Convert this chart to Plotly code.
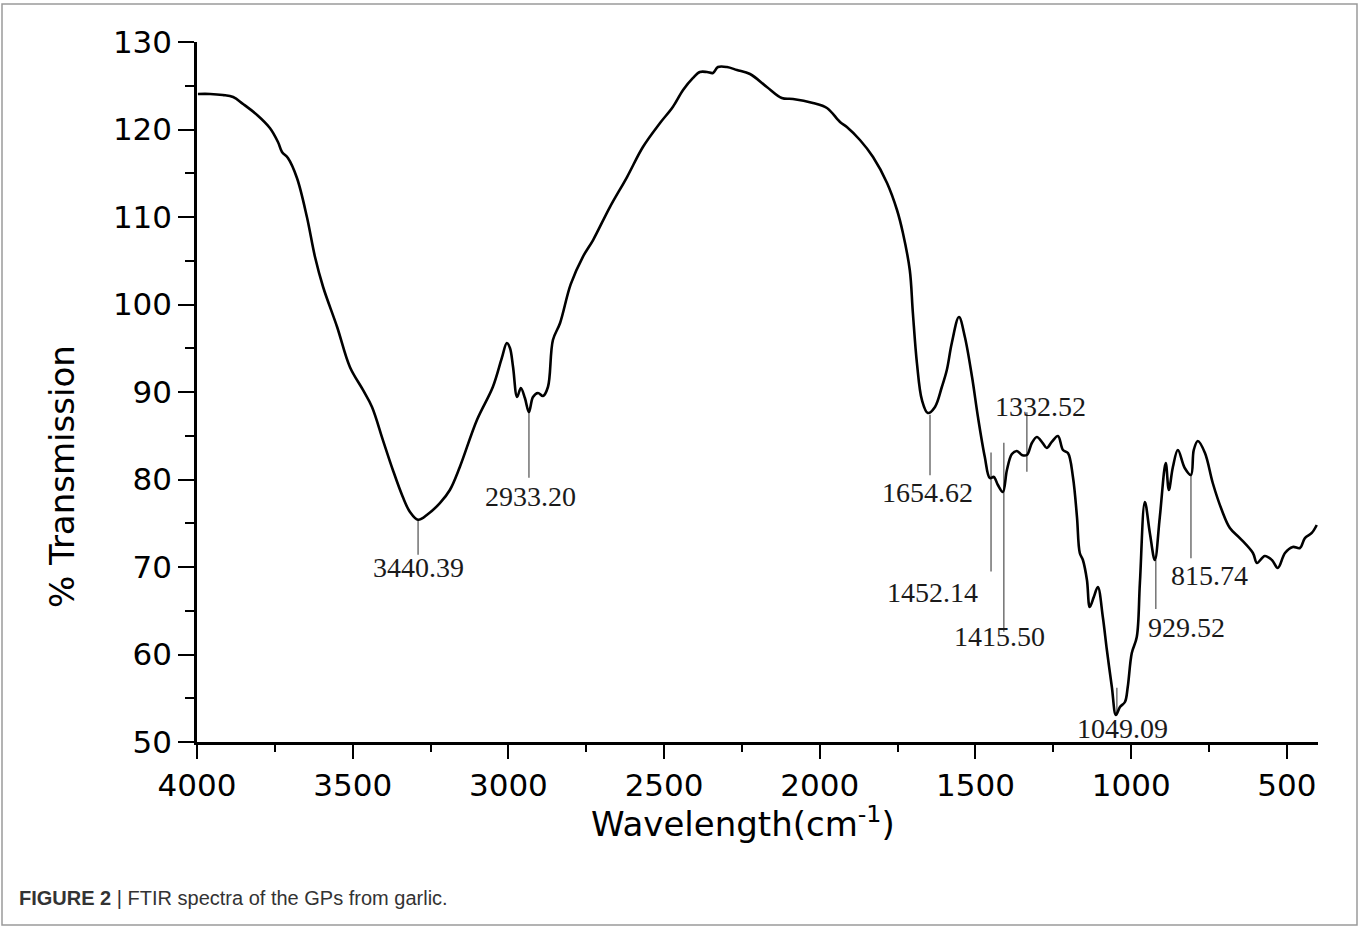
import plotly.graph_objects as go

# ---- data ----
wavenumber = [3997, 3958, 3917, 3884, 3852, 3807, 3766, 3740, 3727, 3708, 3679, 3647, 3621, 3595,
              3550, 3509, 3467, 3438, 3403, 3371, 3339, 3316, 3290, 3258, 3220, 3188, 3156, 3101,
              3050, 3021, 3005, 2995, 2985, 2972, 2960, 2947, 2934, 2921, 2905, 2889, 2873, 2857,
              2834, 2800, 2760, 2728, 2674, 2619, 2568, 2513, 2472, 2439, 2407, 2385, 2362, 2343,
              2327, 2298, 2266, 2224, 2170, 2122, 2086, 2022, 1977, 1935, 1913, 1871, 1829, 1784,
              1752, 1733, 1711, 1701, 1688, 1672, 1653, 1630, 1608, 1592, 1576, 1553, 1534, 1511,
              1492, 1470, 1454, 1441, 1428, 1412, 1399, 1383, 1367, 1351, 1335, 1319, 1303, 1284,
              1271, 1255, 1235, 1219, 1203, 1187, 1174, 1165, 1155, 1142, 1133, 1120, 1107, 1091,
              1078, 1062, 1049, 1036, 1020, 1011, 998, 982, 972, 956, 940, 924, 908, 889, 879, 866,
              850, 828, 808, 799, 786, 763, 738, 709, 683, 651, 609, 596, 571, 548, 529, 506, 481,
              458, 442, 420, 404]
transmission = [124.06, 124.06, 123.94, 123.71, 122.91, 121.66, 120.17, 118.57, 117.43, 116.74,
                114.46, 110.0, 105.43, 102.0, 97.43, 92.86, 90.23, 88.29, 84.51, 81.09, 78.0,
                76.29, 75.4, 76.06, 77.3, 78.8, 81.43, 86.8, 90.57, 93.9, 95.6, 95.03, 92.86,
                89.43, 90.46, 89.31, 87.71, 89.43, 89.89, 89.54, 90.57, 95.94, 97.89, 102.3,
                105.5, 107.37, 111.14, 114.57, 118.0, 120.74, 122.57, 124.51, 125.89, 126.57,
                126.57, 126.46, 127.14, 127.14, 126.8, 126.34, 124.86, 123.6, 123.49, 123.03,
                122.46, 120.86, 120.29, 118.8, 116.86, 113.89, 110.8, 108.17, 103.94, 99.03,
                93.31, 89.09, 87.6, 88.29, 90.57, 92.51, 95.6, 98.57, 96.29, 91.71, 87.14,
                82.57, 80.17, 80.29, 79.37, 78.57, 81.09, 82.91, 83.26, 82.8, 82.8, 84.17,
                84.86, 84.17, 83.6, 84.29, 84.97, 83.37, 83.03, 80.29, 75.71, 71.6, 70.8,
                68.51, 65.43, 66.57, 67.71, 64.29, 60.51, 56.29, 53.09, 54.0, 54.57, 56.29,
                60.17, 62.0, 68.17, 77.43, 73.89, 70.8, 75.71, 81.89, 78.8, 81.43, 83.37,
                81.31, 80.51, 83.37, 84.4, 83.03, 79.6, 76.51, 74.46, 73.31, 71.6, 70.46,
                71.26, 70.8, 69.89, 71.6, 72.29, 72.17, 73.31, 73.89, 74.8]

peak_labels = ["3440.39", "2933.20", "1654.62", "1452.14", "1415.50",
               "1332.52", "1049.09", "929.52", "815.74"]
# where each marker line sits (wavenumber on the axis) and its vertical extent
peak_line_x = [3290, 2934, 1646, 1450, 1409, 1335, 1046, 921, 808]
peak_line_top = [75.4, 87.7, 87.4, 83.1, 84.2, 87.7, 56.2, 70.8, 80.5]
peak_line_bottom = [71.4, 80.2, 80.5, 69.5, 62.6, 80.9, 53.3, 65.2, 71.0]
# label centres
peak_text_x = [3290, 2928, 1653, 1637, 1422, 1290, 1027, 821, 747]
peak_text_y = [70.0, 78.1, 78.5, 67.1, 62.1, 88.4, 51.5, 63.1, 69.0]

x_ticks = [4000, 3500, 3000, 2500, 2000, 1500, 1000, 500]
y_ticks = [50, 60, 70, 80, 90, 100, 110, 120, 130]

# ---- layout constants (pixels) ----
W, H = 1360, 928
ML, MR, MT, MB = 197, 42, 42, 186
PW, PH = W - ML - MR, H - MT - MB


def px_x(p):
    return (p - ML) / PW


def px_y(p):
    return (H - MB - p) / PH


fig = go.Figure()
fig.add_trace(go.Scatter(
    x=wavenumber, y=transmission, mode="lines",
    line=dict(color="black", width=2.6, shape="spline", smoothing=1.0),
    hoverinfo="skip", showlegend=False))

for lx, y0, y1 in zip(peak_line_x, peak_line_top, peak_line_bottom):
    fig.add_shape(type="line", xref="x", yref="y", x0=lx, x1=lx, y0=y0, y1=y1,
                  line=dict(color="#7a7a7a", width=1.6), layer="below")

for lab, tx, ty in zip(peak_labels, peak_text_x, peak_text_y):
    fig.add_annotation(x=tx, y=ty, xref="x", yref="y", text=lab, showarrow=False,
                       font=dict(family="Liberation Serif", size=28, color="#1a1a1a"),
                       xanchor="center", yanchor="middle")

tick_font = dict(family="DejaVu Sans", size=31, color="black")

fig.update_xaxes(range=[4000, 400], tickvals=x_ticks, ticktext=[str(v) for v in x_ticks],
                 showline=True, linecolor="black", linewidth=2.5, mirror=False,
                 ticks="outside", ticklen=14, tickwidth=2.2, tickcolor="black",
                 showgrid=False, zeroline=False, tickfont=tick_font,
                 minor=dict(ticks="outside", ticklen=7, tickwidth=2.2, tickcolor="black",
                            dtick=250, tick0=0, showgrid=False))
fig.update_yaxes(range=[50, 130], tickvals=y_ticks, ticktext=[str(v) for v in y_ticks],
                 showline=True, linecolor="black", linewidth=2.5, mirror=False,
                 ticks="outside", ticklen=16, tickwidth=2.2, tickcolor="black",
                 showgrid=False, zeroline=False, tickfont=tick_font,
                 minor=dict(ticks="outside", ticklen=9, tickwidth=2.2, tickcolor="black",
                            dtick=5, tick0=0, showgrid=False))

# axis titles
fig.add_annotation(xref="paper", yref="paper", x=px_x(62), y=px_y(477),
                   text="% Transmission", textangle=-90, showarrow=False,
                   font=dict(family="DejaVu Sans", size=34, color="black"),
                   xanchor="center", yanchor="middle")
fig.add_annotation(xref="paper", yref="paper", x=px_x(743), y=px_y(822),
                   text="Wavelength(cm<sup>-1</sup>)", showarrow=False,
                   font=dict(family="DejaVu Sans", size=34, color="black"),
                   xanchor="center", yanchor="middle")

# caption
fig.add_annotation(xref="paper", yref="paper", x=px_x(17), y=px_y(898),
                   text="<b>FIGURE 2</b> | FTIR spectra of the GPs from garlic.",
                   showarrow=False,
                   font=dict(family="Liberation Sans", size=20, color="#333333"),
                   xanchor="left", yanchor="middle")

# outer frame
fig.add_shape(type="rect", xref="paper", yref="paper",
              x0=px_x(2), x1=px_x(1357), y0=px_y(925), y1=px_y(4),
              line=dict(color="#9a9a9a", width=1.5), fillcolor="rgba(0,0,0,0)")

fig.update_layout(width=W, height=H, margin=dict(l=ML, r=MR, t=MT, b=MB),
                  paper_bgcolor="white", plot_bgcolor="white", showlegend=False)

fig.write_html("out.html")
